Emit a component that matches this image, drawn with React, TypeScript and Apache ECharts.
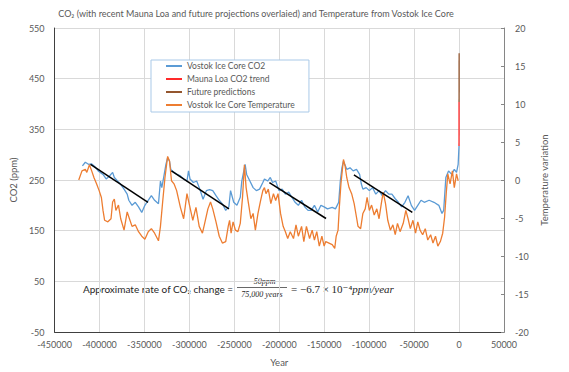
import React, { useEffect, useRef } from "react";
import * as echarts from "echarts";

// Vostok ice core CO2 (ppm)
const vostokYears = [
  -419000, -415800, -412300, -409000, -405000, -401500, -396100, -392600, -388900, -385400,
  -383500, -380000, -376700, -372700, -369200, -367400, -363800, -360200, -356600, -353000,
  -349500, -345800, -342300, -338700, -334400, -332200, -330700, -328600, -326100, -324200,
  -322100, -320700, -317100, -313600, -310000, -306400, -302700, -301000, -299300, -295600,
  -291900, -288400, -284800, -281100, -277600, -274000, -270400, -266800, -263300, -259600,
  -256100, -254200, -250700, -247100, -243400, -241700, -238000, -236300, -232700, -229100,
  -225500, -221900, -218300, -216500, -212900, -210000, -207500, -204000, -200300, -196800,
  -193200, -189500, -186000, -182400, -178800, -175200, -171700, -168000, -164400, -160900,
  -157200, -153700, -150100, -146400, -141100, -137500, -133900, -132100, -130300, -128600,
  -124900, -121300, -117800, -114100, -110600, -108700, -107000, -103300, -99800, -96200,
  -92600, -89000, -85500, -81800, -78200, -74700, -71000, -67500, -63900, -60200,
  -56700, -53100, -49500, -45900, -42300, -38700, -33300, -27900, -22500, -19000,
  -17100, -14700, -11700, -8200, -5300, -2800, -1000, -60,
];
const vostokCO2 = [
  278, 285, 281, 282, 276, 268, 261, 252, 258, 265,
  255, 248, 242, 232, 222, 210, 200, 206, 197, 186,
  200, 210, 219, 210, 203, 248, 235, 255, 281, 294,
  287, 271, 265, 261, 258, 252, 248, 268, 252, 245,
  248, 232, 212, 229, 231, 229, 219, 210, 203, 190,
  197, 229, 206, 200, 216, 248, 281, 261, 248, 235,
  229, 232, 245, 252, 248, 255, 245, 248, 229, 232,
  222, 226, 216, 206, 200, 210, 197, 190, 190, 200,
  187, 200, 197, 193, 196, 193, 206, 248, 274, 287,
  271, 274, 268, 271, 261, 242, 232, 235, 229, 235,
  222, 229, 219, 229, 222, 222, 213, 206, 197, 206,
  219, 200, 190, 200, 210, 206, 210, 206, 200, 184,
  190, 255, 268, 261, 271, 265, 281, 317,
];

// Vostok ice core temperature variation (°C)
const tempYears = [
  -423100, -419500, -415800, -414100, -411200, -408700, -406100, -403300, -400400, -397900,
  -396100, -394300, -390700, -387200, -385400, -383500, -381800, -378900, -376400, -372700,
  -369200, -366700, -363800, -360200, -356600, -353000, -349500, -345800, -342300, -338700,
  -334400, -332200, -329600, -327200, -324200, -322100, -319900, -317100, -314200, -310000,
  -306400, -302700, -299900, -296200, -292700, -289100, -285500, -283000, -279400, -276500,
  -274000, -270400, -266800, -263300, -259600, -256800, -255300, -253600, -251400, -248800,
  -246000, -243400, -240900, -238800, -236900, -234500, -231600, -229100, -226600, -223700,
  -220800, -218300, -216500, -214800, -212200, -209400, -206500, -204000, -201400, -198600,
  -195700, -193200, -190600, -187800, -184200, -181400, -178800, -175200, -172700, -169800,
  -166300, -163400, -160900, -158300, -155500, -152600, -150100, -148300, -144700, -141100,
  -138300, -136700, -134600, -133200, -131400, -129600, -128600, -126700, -124900, -122400,
  -119500, -116700, -114100, -112400, -109500, -107000, -104400, -102300, -99800, -97300,
  -94400, -91500, -89000, -86500, -84400, -81800, -79300, -76400, -73600, -71000,
  -68500, -65600, -62100, -59200, -56700, -54200, -51300, -48400, -45900, -43400,
  -40500, -37600, -34800, -31600, -29000, -26200, -23600, -20800, -18200, -16100,
  -14300, -12500, -10000, -7400, -5300, -2800, -1000,
];
const tempValues = [
  0.0, 1.2, 1.4, 1.0, 2.0, 1.2, 0.3, -0.5, -1.4, -2.3,
  -4.0, -5.3, -5.5, -5.1, -2.9, -2.5, -4.0, -3.3, -5.1, -6.6,
  -4.2, -5.1, -6.1, -5.9, -6.8, -7.4, -7.8, -6.8, -6.4, -7.0,
  -8.0, -6.1, -2.7, 0.3, 3.1, 2.5, -0.1, -0.5, -1.4, -3.6,
  -5.1, -1.8, -3.3, -5.3, -3.6, -6.1, -7.0, -5.7, -3.8, -2.9,
  -3.8, -5.5, -7.4, -8.3, -8.1, -6.1, -5.3, -7.0, -5.5, -6.6,
  -6.8, -5.7, -2.3, 2.0, -1.0, -2.9, -5.1, -4.4, -6.6, -4.4,
  -2.7, -1.4, -1.0, -1.8, -1.2, -3.1, -1.8, -2.7, -1.8, -4.4,
  -6.1, -6.8, -7.7, -6.8, -7.7, -5.9, -7.4, -6.1, -8.1, -6.1,
  -7.7, -6.6, -7.9, -6.8, -8.7, -7.4, -8.7, -8.1, -8.3, -8.5,
  -9.0, -7.4, -6.6, -3.6, -0.5, 1.6, 2.7, 1.8, 0.3, -1.0,
  -1.8, -3.1, -4.9, -6.1, -6.4, -4.4, -3.8, -2.3, -4.0, -3.3,
  -4.6, -3.8, -5.1, -3.1, -1.6, -3.1, -5.3, -6.6, -5.9, -7.2,
  -5.7, -6.8, -5.7, -4.0, -5.1, -6.4, -5.3, -7.0, -5.5, -6.6,
  -7.2, -6.4, -7.9, -7.2, -8.3, -7.4, -8.7, -8.1, -7.0, -4.9,
  -1.8, 0.8, -0.5, 1.2, -1.0, 0.8, -0.1,
];

// Mauna Loa trend and future predictions (ppm)
const maunaLoaYears = [-57, 0];
const maunaLoaCO2 = [317, 404];
const futureYears = [0, 85];
const futureCO2 = [404, 500];

// Black trend segments
const trendStartYears = [-410000, -320000, -211000, -117000];
const trendStartCO2 = [281, 268, 245, 260];
const trendEndYears = [-346000, -256000, -148000, -52000];
const trendEndCO2 = [206, 193, 174, 186];

const seriesNames = [
  "Vostok Ice Core CO2",
  "Mauna Loa CO2 trend",
  "Future predictions",
  "Vostok Ice Core Temperature",
];

const TXT = "#595959";
const GRID = "#D9D9D9";
const FONT = "Lato, 'Open Sans', sans-serif";
const SERIF = "'Liberation Serif', 'DejaVu Serif', serif";

export default function App() {
  const ref = useRef<HTMLDivElement>(null);
  useEffect(() => {
    if (!ref.current) return;
    const chart = echarts.init(ref.current, null, { renderer: "svg" });
    const pairs = (xs: number[], ys: number[]) => xs.map((x, i) => [x, ys[i]]);
    const trendSeries = trendStartYears.map((sx, i) => ({
      type: "line",
      name: "",
      yAxisIndex: 0,
      showSymbol: false,
      symbol: "none",
      z: 10,
      lineStyle: { color: "#000000", width: 1.5 },
      data: [
        [sx, trendStartCO2[i]],
        [trendEndYears[i], trendEndCO2[i]],
      ],
      silent: true,
    }));
    const option: any = {
      animation: false,
      backgroundColor: "#ffffff",
      grid: { left: 40, right: 65, top: 28, bottom: 35, containLabel: false },
      legend: {
        data: seriesNames,
        orient: "vertical",
        left: 151,
        top: 60,
        padding: [1, 14, 2, 15],
        itemWidth: 16,
        itemHeight: 2,
        itemGap: 3,
        icon: "rect",
        borderColor: "#A9C9E8",
        borderWidth: 1,
        backgroundColor: "#ffffff",
        textStyle: { color: TXT, fontSize: 8.5, fontFamily: FONT, lineHeight: 10 },
      },
      xAxis: {
        type: "value",
        min: -450000,
        max: 50000,
        interval: 50000,
        name: "Year",
        nameLocation: "middle",
        nameGap: 25,
        nameTextStyle: { color: TXT, fontSize: 9.5, fontFamily: FONT },
        axisLine: { show: true, onZero: false, lineStyle: { color: "#404040", width: 1 } },
        axisTick: { show: false },
        axisLabel: {
          color: TXT,
          fontSize: 9,
          fontFamily: FONT,
          margin: 8,
          formatter: (v: number) => String(v),
        },
        splitLine: { show: true, lineStyle: { color: GRID, width: 1 } },
      },
      yAxis: [
        {
          type: "value",
          position: "left",
          min: -50,
          max: 550,
          interval: 100,
          name: "CO2 (ppm)",
          nameLocation: "middle",
          nameGap: 25,
          nameRotate: 90,
          nameTextStyle: { color: TXT, fontSize: 9.5, fontFamily: FONT },
          axisLine: { show: true, onZero: false, lineStyle: { color: "#404040", width: 1 } },
          axisTick: { show: false },
          axisLabel: { color: TXT, fontSize: 9, fontFamily: FONT, margin: 10 },
          splitLine: { show: true, lineStyle: { color: GRID, width: 1 } },
        },
        {
          type: "value",
          position: "right",
          min: -20,
          max: 20,
          interval: 5,
          name: "Temperature variation",
          nameLocation: "middle",
          nameGap: 23,
          nameRotate: 90,
          nameTextStyle: { color: TXT, fontSize: 9.5, fontFamily: FONT },
          axisLine: { show: true, onZero: false, lineStyle: { color: "#868686", width: 1 } },
          axisTick: { show: true, inside: true, length: 3, lineStyle: { color: "#868686" } },
          axisLabel: { color: TXT, fontSize: 9, fontFamily: FONT, margin: 11 },
          splitLine: { show: false },
        },
      ],
      series: [
        {
          type: "line",
          name: seriesNames[0],
          yAxisIndex: 0,
          symbol: "none",
          showSymbol: false,
          z: 2,
          color: "#5B9BD5",
          lineStyle: { color: "#5B9BD5", width: 1.3 },
          data: pairs(vostokYears, vostokCO2),
        },
        {
          type: "line",
          name: seriesNames[1],
          yAxisIndex: 0,
          symbol: "none",
          showSymbol: false,
          z: 4,
          color: "#FF2A2A",
          lineStyle: { color: "#FF2A2A", width: 1.3 },
          data: pairs(maunaLoaYears, maunaLoaCO2),
        },
        {
          type: "line",
          name: seriesNames[2],
          yAxisIndex: 0,
          symbol: "none",
          showSymbol: false,
          z: 4,
          color: "#94562E",
          lineStyle: { color: "#94562E", width: 1.3 },
          data: pairs(futureYears, futureCO2),
        },
        {
          type: "line",
          name: seriesNames[3],
          yAxisIndex: 1,
          symbol: "none",
          showSymbol: false,
          z: 3,
          color: "#ED7D31",
          lineStyle: { color: "#ED7D31", width: 1.3 },
          data: pairs(tempYears, tempValues),
        },
        ...trendSeries,
      ],
      graphic: [
        {
          type: "text",
          x: 256,
          y: 13,
          style: {
            text: "CO₂ (with recent Mauna Loa and future projections overlaied) and Temperature from Vostok Ice Core",
            align: "center",
            verticalAlign: "middle",
            fontSize: 9,
            fontFamily: FONT,
            fill: TXT,
          },
        },
        {
          type: "text",
          x: 83,
          y: 289,
          style: {
            text: "Approximate rate of CO₂ change =",
            align: "left",
            verticalAlign: "middle",
            fontSize: 10,
            fontFamily: FONT,
            fill: "#262626",
          },
        },
        {
          type: "text",
          x: 262,
          y: 281,
          style: {
            text: "−50ppm",
            align: "center",
            verticalAlign: "middle",
            fontSize: 8,
            fontStyle: "italic",
            fontFamily: SERIF,
            fill: "#262626",
          },
        },
        {
          type: "line",
          shape: { x1: 237, y1: 287.5, x2: 287, y2: 287.5 },
          style: { stroke: "#262626", lineWidth: 0.7 },
        },
        {
          type: "text",
          x: 262,
          y: 294.5,
          style: {
            text: "75,000 years",
            align: "center",
            verticalAlign: "middle",
            fontSize: 8,
            fontStyle: "italic",
            fontFamily: SERIF,
            fill: "#262626",
          },
        },
        {
          type: "text",
          x: 291,
          y: 289,
          style: {
            text: "{a|= −6.7 × 10⁻⁴}{b|ppm/year}",
            align: "left",
            verticalAlign: "middle",
            fontSize: 11,
            fontFamily: SERIF,
            fill: "#262626",
            rich: {
              a: { fontSize: 11, fontFamily: SERIF, fill: "#262626" },
              b: { fontSize: 11, fontFamily: SERIF, fontStyle: "italic", fill: "#262626" },
            },
          },
        },
      ],
    };
    chart.setOption(option);
    return () => chart.dispose();
  }, []);
  return (
    <div
      ref={ref}
      style={{ position: "fixed", left: 0, top: 0, width: 569, height: 372, background: "#fff" }}
    />
  );
}
